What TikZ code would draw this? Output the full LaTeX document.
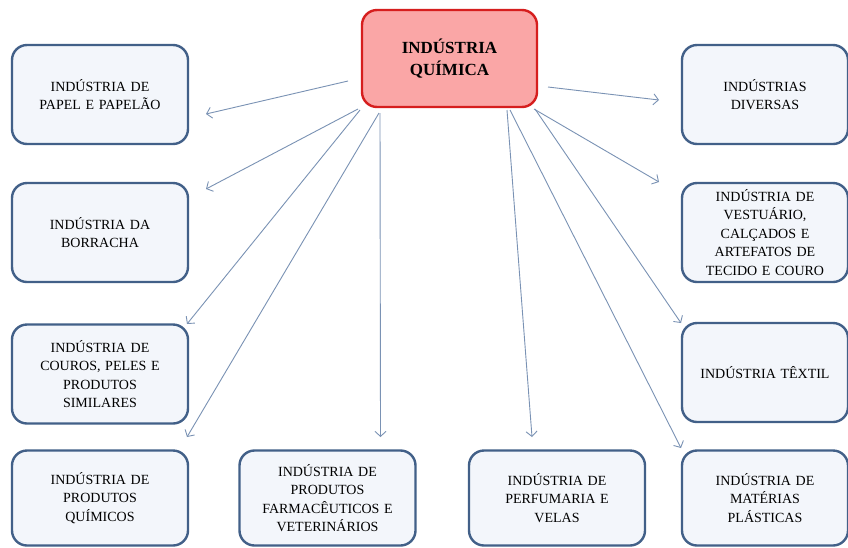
\documentclass[tikz,border=0pt]{standalone}
\usepackage{fontspec}
\setmainfont{Liberation Serif}
\usetikzlibrary{arrows.meta}
\definecolor{boxline}{RGB}{66,96,136}
\definecolor{boxfill}{RGB}{243,246,251}
\definecolor{centerfill}{RGB}{250,166,166}
\definecolor{centerline}{RGB}{214,30,30}
\definecolor{arrowcol}{RGB}{122,146,180}
\tikzset{
  sidebox/.style={draw=boxline, fill=boxfill, line width=2.4pt, rounded corners=15pt,
    minimum width=176pt, minimum height=99pt, align=center, text width=160pt,
    font=\fontsize{14}{18.5}\selectfont, inner sep=0pt},
  rightbox/.style={sidebox, minimum width=166pt, text width=152pt},
  lowbox/.style={minimum height=95pt},
  centerbox/.style={draw=centerline, fill=centerfill, line width=2.4pt, rounded corners=15pt,
    minimum width=175pt, minimum height=97pt, align=center,
    font=\fontsize{17}{22}\selectfont\bfseries, inner sep=0pt},
  link/.style={draw=arrowcol, line width=0.9pt, -{Straight Barb[length=5pt,width=11pt]}}
}
\begin{document}
\begin{tikzpicture}[x=1pt,y=-1pt]
\useasboundingbox (0,0) rectangle (848,547);
\clip (0,0) rectangle (848,547);
\fill[white] (0,0) rectangle (848,547);

\node[centerbox] (quimica) at (449.5,58.5) {INDÚSTRIA\\QUÍMICA};

\node[sidebox] (papel) at (100,94.5) {INDÚSTRIA DE\\PAPEL E PAPELÃO};
\node[sidebox] (borracha) at (100,232.5) {INDÚSTRIA DA\\BORRACHA};
\node[sidebox] (couros) at (100,374) {INDÚSTRIA DE\\COUROS, PELES E\\PRODUTOS\\SIMILARES};
\node[sidebox, lowbox] (produtos) at (100,498) {INDÚSTRIA DE\\PRODUTOS\\QUÍMICOS};
\node[sidebox, lowbox] (farma) at (327.5,498) {INDÚSTRIA DE\\PRODUTOS\\FARMACÊUTICOS E\\VETERINÁRIOS};
\node[sidebox, lowbox] (perfum) at (557,498) {INDÚSTRIA DE\\PERFUMARIA E\\VELAS};
\node[rightbox, lowbox] (plasticas) at (765,498) {INDÚSTRIA DE\\MATÉRIAS\\PLÁSTICAS};
\node[rightbox] (textil) at (765,372.5) {INDÚSTRIA TÊXTIL};
\node[rightbox] (vestuario) at (765,232.5) {INDÚSTRIA DE\\VESTUÁRIO,\\CALÇADOS E\\ARTEFATOS DE\\TECIDO E COURO};
\node[rightbox] (diversas) at (765,94.5) {INDÚSTRIAS\\DIVERSAS};

% start points on the centre box
\coordinate (sPapel) at (348,81);
\coordinate (sBorr) at (358,109);
\coordinate (sCour) at (360,110);
\coordinate (sProd) at (379,113);
\coordinate (sFarm) at (380,113);
\coordinate (sPerf) at (507,110);
\coordinate (sPlas) at (510,110);
\coordinate (sText) at (535,109);
\coordinate (sVest) at (534,109);
\coordinate (sDive) at (548,87);
% end points near the target boxes
\coordinate (ePapel) at (206,114);
\coordinate (eBorr) at (206,189);
\coordinate (eCour) at (187,324);
\coordinate (eProd) at (187,437);
\coordinate (eFarm) at (380.5,437);
\coordinate (ePerf) at (532,437);
\coordinate (ePlas) at (681,448);
\coordinate (eText) at (681,323);
\coordinate (eVest) at (659,182);
\coordinate (eDive) at (659,100);

\draw[link] (sPapel) -- (ePapel);
\draw[link] (sBorr) -- (eBorr);
\draw[link] (sCour) -- (eCour);
\draw[link] (sProd) -- (eProd);
\draw[link] (sFarm) -- (eFarm);
\draw[link] (sPerf) -- (ePerf);
\draw[link] (sPlas) -- (ePlas);
\draw[link] (sText) -- (eText);
\draw[link] (sVest) -- (eVest);
\draw[link] (sDive) -- (eDive);
\end{tikzpicture}
\end{document}
